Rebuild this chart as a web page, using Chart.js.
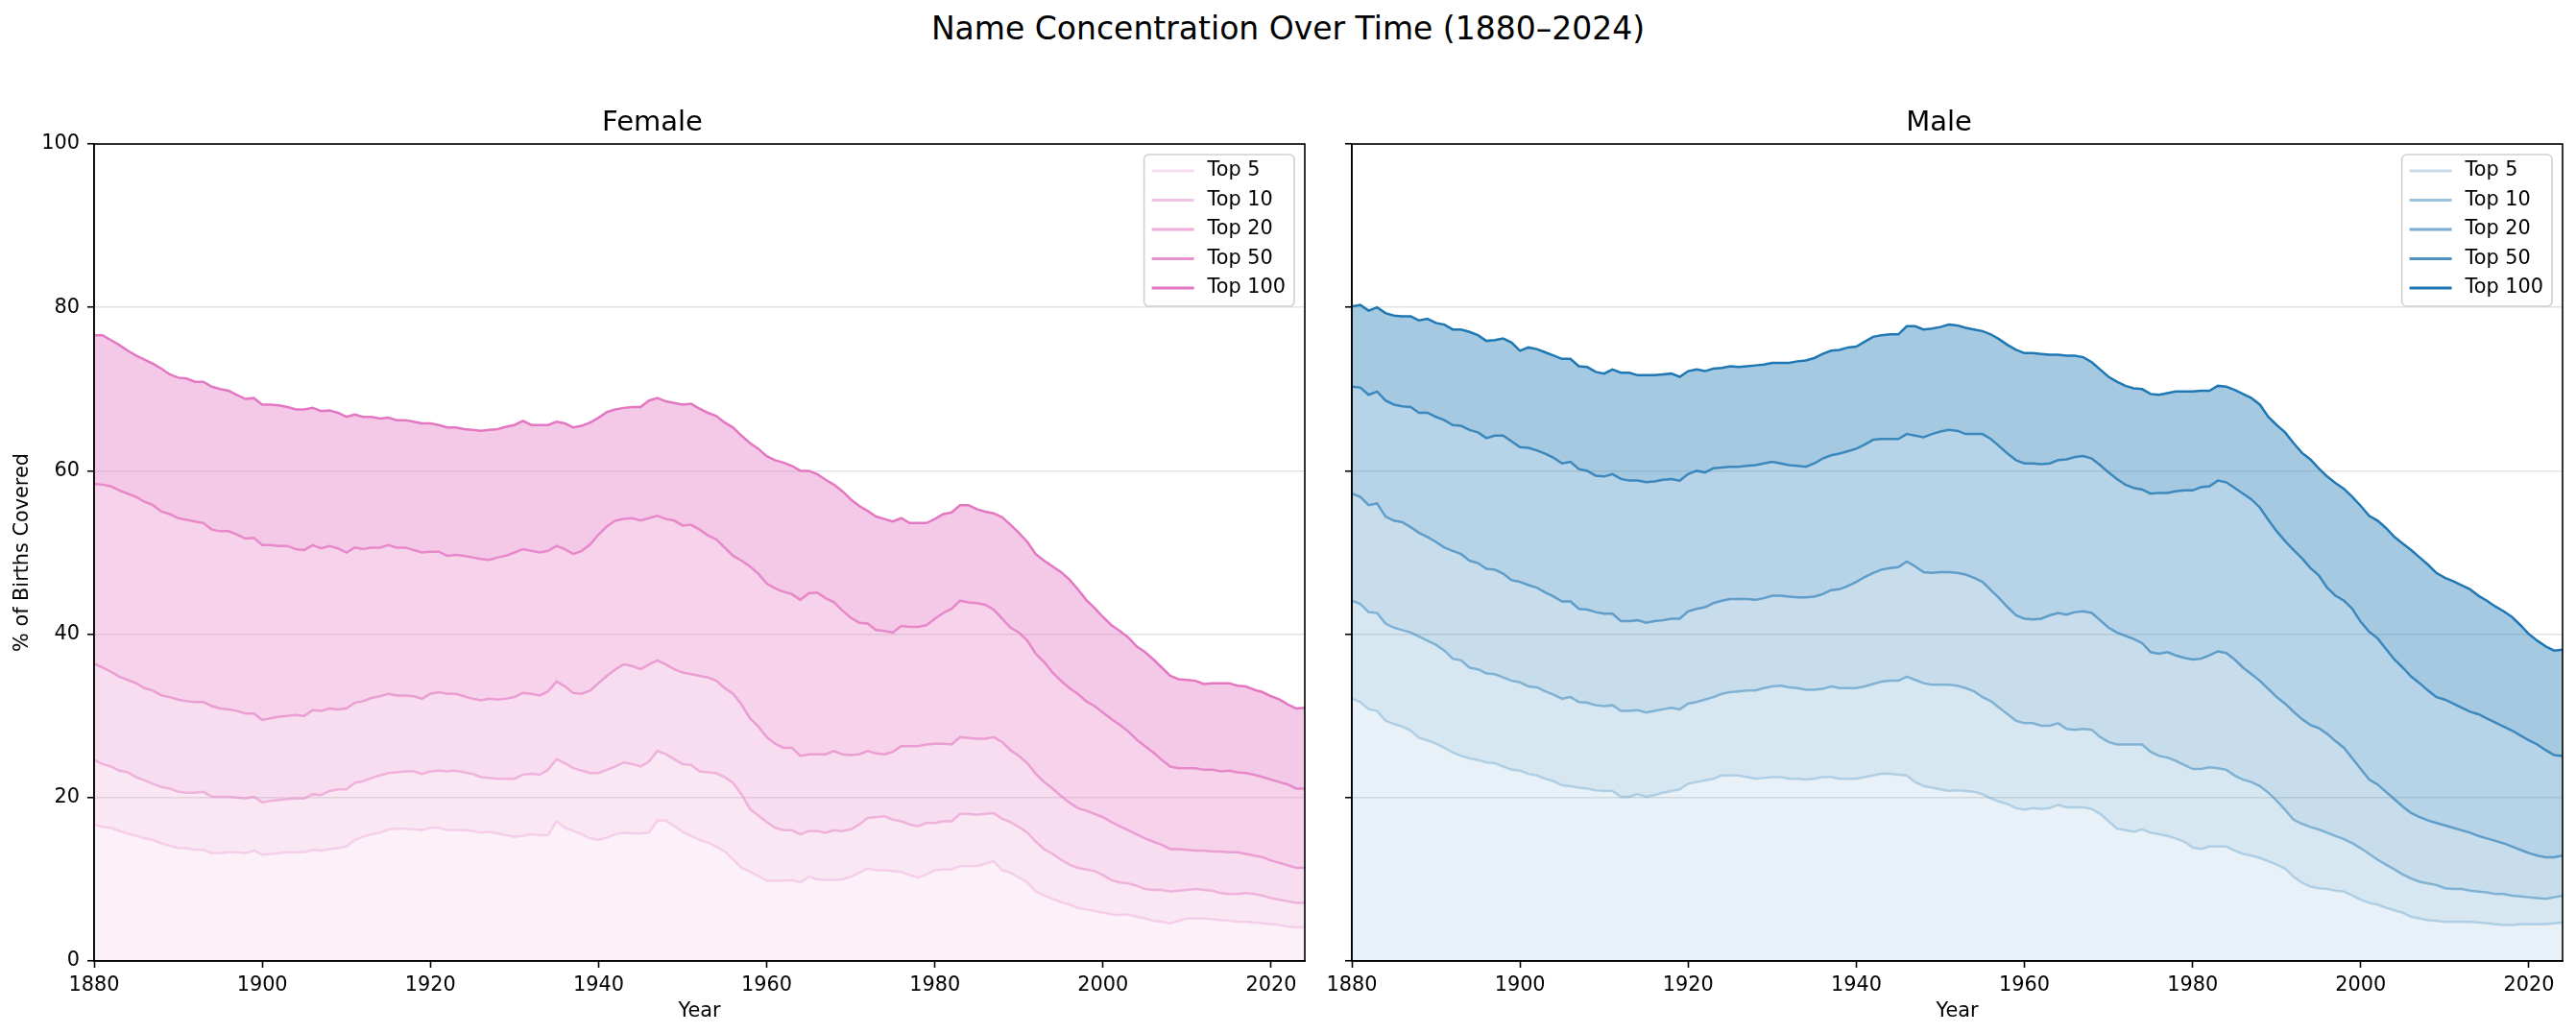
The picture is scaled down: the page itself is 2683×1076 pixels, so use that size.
<!DOCTYPE html>
<html>
<head>
<meta charset="utf-8">
<title>Name Concentration Over Time</title>
<script src="https://cdn.jsdelivr.net/npm/chart.js@4.4.1/dist/chart.umd.min.js"></script>
<style>
  html, body { margin: 0; padding: 0; background: #fff; }
  body { width: 2683px; height: 1076px; position: relative; overflow: hidden; font-family: "DejaVu Sans", sans-serif; }
  #suptitle { position: absolute; left: 0; top: 10px; width: 2683px; text-align: center; font-size: 33px; line-height: 40px; color: #000; }
  canvas { position: absolute; top: 3px; }
  #female { left: 0; }
  #male { left: 1370px; }
</style>
</head>
<body>
<div id="suptitle">Name Concentration Over Time (1880–2024)</div>
<canvas id="female" width="1383" height="1076"></canvas>
<canvas id="male" width="1313" height="1076"></canvas>
<script>
// x axis: one point per year, 1880..2024
const FIRST_YEAR = 1880;
const LAST_YEAR = 2024;
const YEARS = [];
for (let y = FIRST_YEAR; y <= LAST_YEAR; y++) YEARS.push(y);

const SERIES_LABELS = ['Top 5', 'Top 10', 'Top 20', 'Top 50', 'Top 100'];
const X_TICKS = [1880, 1900, 1920, 1940, 1960, 1980, 2000, 2020];
const Y_TICKS = [0, 20, 40, 60, 80, 100];

// % of births covered (one value per year)
const FEMALE_TOP5 = [
  16.7, 16.4, 16.3, 15.9, 15.6, 15.3, 15.0, 14.8, 14.4, 14.1,
  13.8, 13.8, 13.6, 13.6, 13.2, 13.2, 13.3, 13.3, 13.2, 13.5,
  13.0, 13.1, 13.2, 13.3, 13.3, 13.3, 13.6, 13.5, 13.7, 13.8,
  14.0, 14.8, 15.2, 15.5, 15.7, 16.1, 16.2, 16.2, 16.1, 16.0,
  16.3, 16.3, 16.0, 16.0, 16.0, 15.9, 15.7, 15.8, 15.6, 15.4,
  15.2, 15.3, 15.5, 15.4, 15.4, 17.1, 16.3, 15.9, 15.5, 15.0,
  14.8, 15.1, 15.5, 15.7, 15.6, 15.6, 15.7, 17.2, 17.2, 16.5,
  15.8, 15.3, 14.8, 14.5, 14.0, 13.4, 12.4, 11.4, 10.9, 10.4,
  9.8, 9.8, 9.8, 9.9, 9.6, 10.3, 10.0, 9.9, 9.9, 10.0,
  10.3, 10.8, 11.3, 11.1, 11.1, 11.0, 10.9, 10.5, 10.2, 10.6,
  11.1, 11.2, 11.2, 11.6, 11.6, 11.6, 11.9, 12.2, 11.1, 10.8,
  10.2, 9.6, 8.5, 8.0, 7.6, 7.2, 6.9, 6.5, 6.3, 6.1,
  5.9, 5.7, 5.6, 5.7, 5.4, 5.2, 4.9, 4.8, 4.6, 4.9,
  5.2, 5.2, 5.2, 5.1, 5.0, 4.9, 4.8, 4.8, 4.7, 4.6,
  4.5, 4.4, 4.2, 4.1, 4.1
];
const FEMALE_TOP10 = [
  24.6, 24.1, 23.8, 23.3, 23.1, 22.5, 22.1, 21.7, 21.3, 21.1,
  20.7, 20.6, 20.6, 20.7, 20.1, 20.1, 20.1, 20.0, 19.9, 20.1,
  19.4, 19.6, 19.7, 19.8, 19.9, 19.9, 20.4, 20.3, 20.8, 21.0,
  21.0, 21.8, 22.0, 22.4, 22.7, 23.0, 23.1, 23.2, 23.2, 22.9,
  23.2, 23.3, 23.2, 23.3, 23.1, 22.9, 22.5, 22.4, 22.3, 22.3,
  22.3, 22.8, 22.9, 22.8, 23.4, 24.7, 24.2, 23.6, 23.3, 23.0,
  23.0, 23.4, 23.8, 24.3, 24.1, 23.8, 24.4, 25.7, 25.3, 24.7,
  24.1, 24.0, 23.2, 23.1, 23.0, 22.5, 21.8, 20.4, 18.6, 17.8,
  17.0, 16.3, 16.0, 16.0, 15.5, 15.9, 15.9, 15.7, 16.0, 15.9,
  16.1, 16.7, 17.5, 17.6, 17.7, 17.3, 17.1, 16.7, 16.5, 16.9,
  16.9, 17.1, 17.1, 18.0, 18.0, 17.9, 18.0, 18.1, 17.4, 17.0,
  16.4, 15.7, 14.6, 13.7, 13.1, 12.4, 11.8, 11.4, 11.2, 11.0,
  10.5, 9.9, 9.6, 9.5, 9.2, 8.8, 8.7, 8.7, 8.5, 8.6,
  8.7, 8.8, 8.7, 8.6, 8.3, 8.2, 8.2, 8.3, 8.2, 8.0,
  7.7, 7.5, 7.3, 7.1, 7.1
];
const FEMALE_TOP20 = [
  36.4, 35.9, 35.4, 34.8, 34.4, 34.0, 33.4, 33.1, 32.5, 32.3,
  32.0, 31.8, 31.7, 31.7, 31.2, 30.9, 30.8, 30.6, 30.3, 30.3,
  29.5, 29.7, 29.9, 30.0, 30.1, 30.0, 30.7, 30.6, 30.9, 30.8,
  30.9, 31.6, 31.8, 32.2, 32.4, 32.7, 32.5, 32.5, 32.4, 32.1,
  32.7, 32.9, 32.7, 32.7, 32.4, 32.1, 31.9, 32.1, 32.0, 32.1,
  32.3, 32.8, 32.7, 32.5, 33.0, 34.2, 33.6, 32.8, 32.7, 33.1,
  34.0, 34.9, 35.7, 36.3, 36.1, 35.7, 36.3, 36.8, 36.3, 35.7,
  35.3, 35.1, 34.9, 34.7, 34.3, 33.4, 32.7, 31.4, 29.7, 28.7,
  27.4, 26.6, 26.1, 26.1, 25.1, 25.3, 25.3, 25.3, 25.7, 25.3,
  25.2, 25.3, 25.7, 25.4, 25.3, 25.6, 26.3, 26.3, 26.3, 26.5,
  26.6, 26.6, 26.5, 27.4, 27.3, 27.2, 27.2, 27.4, 26.8, 25.8,
  25.1, 24.2, 22.9, 21.9, 21.1, 20.2, 19.4, 18.7, 18.4, 18.0,
  17.6, 17.0, 16.5, 16.0, 15.5, 15.0, 14.6, 14.2, 13.7, 13.7,
  13.6, 13.5, 13.5, 13.4, 13.4, 13.3, 13.3, 13.1, 12.9, 12.7,
  12.3, 12.0, 11.7, 11.4, 11.4
];
const FEMALE_TOP50 = [
  58.4, 58.3, 58.1, 57.6, 57.2, 56.8, 56.2, 55.8, 55.0, 54.7,
  54.2, 54.0, 53.8, 53.6, 52.8, 52.6, 52.6, 52.2, 51.7, 51.8,
  50.9, 50.9, 50.8, 50.8, 50.4, 50.3, 50.9, 50.5, 50.8, 50.5,
  50.0, 50.6, 50.4, 50.6, 50.6, 50.9, 50.6, 50.6, 50.3, 50.0,
  50.1, 50.1, 49.6, 49.7, 49.6, 49.4, 49.2, 49.1, 49.4, 49.6,
  50.0, 50.4, 50.2, 50.0, 50.2, 50.8, 50.4, 49.8, 50.2, 51.0,
  52.2, 53.2, 53.9, 54.1, 54.2, 53.9, 54.2, 54.5, 54.1, 53.9,
  53.3, 53.4, 52.8, 52.1, 51.6, 50.6, 49.6, 49.0, 48.3, 47.4,
  46.2, 45.6, 45.2, 44.9, 44.2, 45.0, 45.1, 44.4, 43.9, 42.9,
  42.0, 41.4, 41.3, 40.5, 40.4, 40.2, 41.0, 40.9, 40.9, 41.1,
  41.9, 42.6, 43.1, 44.1, 43.9, 43.8, 43.6, 43.0, 41.9, 40.8,
  40.2, 39.2, 37.6, 36.6, 35.3, 34.3, 33.4, 32.7, 31.8, 31.2,
  30.4, 29.6, 28.9, 28.1, 27.1, 26.3, 25.5, 24.6, 23.8, 23.6,
  23.6, 23.6, 23.4, 23.4, 23.2, 23.3, 23.1, 23.0, 22.8, 22.5,
  22.2, 21.9, 21.6, 21.1, 21.1
];
const FEMALE_TOP100 = [
  76.6, 76.6, 76.0, 75.4, 74.7, 74.1, 73.6, 73.1, 72.5, 71.8,
  71.4, 71.3, 70.9, 70.9, 70.3, 70.0, 69.8, 69.3, 68.8, 68.9,
  68.1, 68.1, 68.0, 67.8, 67.5, 67.5, 67.7, 67.3, 67.4, 67.1,
  66.6, 66.9, 66.6, 66.6, 66.4, 66.5, 66.2, 66.2, 66.0, 65.8,
  65.8, 65.6, 65.3, 65.3, 65.1, 65.0, 64.9, 65.0, 65.1, 65.4,
  65.6, 66.1, 65.6, 65.6, 65.6, 66.0, 65.8, 65.3, 65.5, 65.9,
  66.5, 67.2, 67.5, 67.7, 67.8, 67.8, 68.6, 68.9, 68.5, 68.3,
  68.1, 68.2, 67.6, 67.1, 66.7, 65.9, 65.3, 64.3, 63.4, 62.7,
  61.8, 61.3, 61.0, 60.6, 60.0, 60.0, 59.6, 58.9, 58.3, 57.5,
  56.5, 55.7, 55.1, 54.4, 54.1, 53.8, 54.2, 53.6, 53.6, 53.6,
  54.1, 54.7, 54.9, 55.8, 55.8, 55.3, 55.0, 54.8, 54.3, 53.4,
  52.4, 51.3, 49.8, 49.0, 48.3, 47.6, 46.7, 45.5, 44.2, 43.2,
  42.1, 41.1, 40.4, 39.6, 38.5, 37.8, 36.9, 35.9, 34.9, 34.5,
  34.4, 34.3, 33.9, 34.0, 34.0, 34.0, 33.7, 33.6, 33.2, 32.9,
  32.4, 32.0, 31.4, 30.9, 31.0
];

const MALE_TOP5 = [
  32.1, 31.7, 30.8, 30.6, 29.4, 29.0, 28.7, 28.2, 27.3, 27.0,
  26.6, 26.1, 25.5, 25.1, 24.8, 24.6, 24.3, 24.2, 23.8, 23.4,
  23.3, 22.9, 22.7, 22.3, 22.0, 21.5, 21.4, 21.2, 21.1, 20.9,
  20.8, 20.8, 20.1, 20.1, 20.4, 20.1, 20.3, 20.6, 20.8, 21.0,
  21.7, 21.9, 22.1, 22.3, 22.7, 22.7, 22.7, 22.5, 22.3, 22.4,
  22.5, 22.5, 22.3, 22.3, 22.2, 22.3, 22.5, 22.5, 22.3, 22.3,
  22.3, 22.5, 22.7, 22.9, 22.9, 22.8, 22.7, 21.9, 21.4, 21.2,
  21.0, 20.8, 20.9, 20.8, 20.7, 20.4, 19.9, 19.5, 19.2, 18.7,
  18.5, 18.7, 18.6, 18.7, 19.1, 18.8, 18.8, 18.8, 18.6, 18.0,
  17.1, 16.2, 16.0, 15.8, 16.1, 15.7, 15.5, 15.3, 15.0, 14.6,
  13.9, 13.7, 14.0, 14.0, 14.0, 13.5, 13.1, 12.9, 12.6, 12.2,
  11.8, 11.3, 10.3, 9.6, 9.1, 8.9, 8.8, 8.6, 8.5, 8.0,
  7.5, 7.1, 6.9, 6.5, 6.2, 5.9, 5.4, 5.2, 5.0, 4.9,
  4.8, 4.8, 4.8, 4.8, 4.7, 4.6, 4.5, 4.4, 4.4, 4.5,
  4.5, 4.5, 4.5, 4.6, 4.7
];
const MALE_TOP10 = [
  44.1, 43.7, 42.7, 42.6, 41.3, 40.8, 40.5, 40.2, 39.7, 39.2,
  38.7, 38.0, 37.0, 36.8, 35.9, 35.7, 35.2, 35.1, 34.7, 34.3,
  34.1, 33.6, 33.5, 33.0, 32.6, 32.1, 32.3, 31.7, 31.6, 31.3,
  31.2, 31.3, 30.6, 30.6, 30.7, 30.4, 30.6, 30.8, 31.0, 30.8,
  31.5, 31.7, 32.0, 32.3, 32.7, 32.9, 33.0, 33.1, 33.1, 33.4,
  33.6, 33.7, 33.5, 33.4, 33.2, 33.2, 33.3, 33.6, 33.4, 33.4,
  33.4, 33.6, 33.9, 34.2, 34.3, 34.3, 34.8, 34.4, 34.0, 33.8,
  33.8, 33.8, 33.7, 33.4, 33.0, 32.3, 31.8, 31.0, 30.2, 29.4,
  29.1, 29.1, 28.8, 28.8, 29.1, 28.4, 28.3, 28.4, 28.3, 27.4,
  26.8, 26.5, 26.5, 26.5, 26.5, 25.6, 25.1, 24.9, 24.5, 24.0,
  23.5, 23.5, 23.7, 23.6, 23.4, 22.7, 22.2, 21.9, 21.4, 20.6,
  19.6, 18.5, 17.3, 16.8, 16.4, 16.1, 15.7, 15.3, 14.9, 14.4,
  13.8, 13.1, 12.4, 11.8, 11.2, 10.6, 10.1, 9.7, 9.5, 9.3,
  8.9, 8.8, 8.8, 8.6, 8.5, 8.4, 8.2, 8.2, 8.0, 7.9,
  7.8, 7.7, 7.6, 7.8, 8.0
];
const MALE_TOP20 = [
  57.2, 56.8, 55.8, 56.0, 54.4, 53.9, 53.7, 53.1, 52.4, 51.9,
  51.3, 50.6, 50.2, 49.8, 49.0, 48.7, 48.0, 47.9, 47.4, 46.6,
  46.4, 46.0, 45.7, 45.1, 44.6, 44.0, 44.0, 43.1, 43.0, 42.7,
  42.5, 42.5, 41.6, 41.6, 41.7, 41.4, 41.6, 41.7, 41.9, 41.9,
  42.8, 43.1, 43.3, 43.8, 44.1, 44.3, 44.3, 44.3, 44.2, 44.4,
  44.7, 44.7, 44.6, 44.5, 44.5, 44.6, 44.9, 45.4, 45.5, 45.9,
  46.4, 47.0, 47.5, 47.9, 48.1, 48.2, 48.9, 48.3, 47.6, 47.5,
  47.6, 47.6, 47.5, 47.3, 46.9, 46.4, 45.4, 44.4, 43.3, 42.3,
  41.9, 41.8, 41.9, 42.3, 42.6, 42.4, 42.7, 42.8, 42.6, 41.7,
  40.8, 40.2, 39.8, 39.4, 38.9, 37.8, 37.6, 37.8, 37.4, 37.1,
  36.9, 37.0, 37.4, 37.9, 37.7, 36.9, 35.9, 35.1, 34.3, 33.3,
  32.3, 31.5, 30.5, 29.6, 28.9, 28.5, 27.8, 26.9, 26.1, 24.8,
  23.5, 22.2, 21.6, 20.7, 19.8, 18.9, 18.1, 17.6, 17.2, 16.9,
  16.6, 16.3, 16.0, 15.7, 15.3, 15.0, 14.7, 14.4, 14.0, 13.6,
  13.2, 12.9, 12.7, 12.7, 12.9
];
const MALE_TOP50 = [
  70.3, 70.2, 69.3, 69.7, 68.6, 68.1, 67.9, 67.8, 67.1, 67.1,
  66.6, 66.2, 65.6, 65.5, 65.0, 64.7, 64.0, 64.3, 64.3, 63.6,
  62.9, 62.8, 62.5, 62.1, 61.6, 60.9, 61.1, 60.2, 60.0, 59.4,
  59.3, 59.6, 59.0, 58.8, 58.8, 58.6, 58.7, 58.9, 59.0, 58.8,
  59.6, 60.0, 59.8, 60.3, 60.4, 60.5, 60.5, 60.6, 60.7, 60.9,
  61.1, 60.9, 60.7, 60.6, 60.5, 60.9, 61.5, 61.9, 62.1, 62.4,
  62.7, 63.2, 63.8, 63.9, 63.9, 63.9, 64.5, 64.3, 64.1, 64.5,
  64.8, 65.0, 64.9, 64.5, 64.5, 64.5, 63.9, 63.0, 62.1, 61.3,
  60.9, 60.9, 60.8, 60.9, 61.3, 61.4, 61.7, 61.8, 61.5, 60.7,
  59.8, 59.0, 58.3, 57.9, 57.7, 57.2, 57.3, 57.3, 57.5, 57.6,
  57.6, 58.0, 58.1, 58.8, 58.6, 57.9, 57.2, 56.5, 55.5, 54.0,
  52.6, 51.4, 50.3, 49.3, 48.1, 47.2, 45.7, 44.7, 44.1, 43.1,
  41.5, 40.3, 39.5, 38.2, 36.9, 35.9, 34.8, 34.0, 33.1, 32.3,
  32.0, 31.5, 31.0, 30.5, 30.2, 29.7, 29.2, 28.7, 28.2, 27.6,
  27.0, 26.5, 25.8, 25.2, 25.1
];
const MALE_TOP100 = [
  80.1, 80.3, 79.6, 80.0, 79.3, 79.0, 78.9, 78.9, 78.4, 78.6,
  78.1, 77.9, 77.3, 77.3, 77.0, 76.6, 75.9, 76.0, 76.2, 75.7,
  74.7, 75.1, 74.9, 74.5, 74.1, 73.7, 73.7, 72.8, 72.7, 72.1,
  71.9, 72.4, 72.0, 72.0, 71.7, 71.7, 71.7, 71.8, 71.9, 71.5,
  72.2, 72.4, 72.2, 72.5, 72.6, 72.8, 72.7, 72.8, 72.9, 73.0,
  73.2, 73.2, 73.2, 73.4, 73.5, 73.8, 74.3, 74.7, 74.8, 75.1,
  75.2, 75.8, 76.4, 76.6, 76.7, 76.7, 77.7, 77.7, 77.3, 77.4,
  77.6, 77.9, 77.8, 77.5, 77.3, 77.1, 76.7, 76.1, 75.4, 74.8,
  74.4, 74.4, 74.3, 74.2, 74.2, 74.1, 74.1, 73.9, 73.3, 72.4,
  71.5, 70.9, 70.4, 70.1, 70.0, 69.4, 69.3, 69.5, 69.7, 69.7,
  69.7, 69.8, 69.8, 70.4, 70.3, 69.9, 69.4, 68.9, 68.1, 66.6,
  65.6, 64.7, 63.4, 62.2, 61.4, 60.3, 59.3, 58.5, 57.8, 56.8,
  55.7, 54.5, 53.9, 53.0, 51.9, 51.1, 50.3, 49.4, 48.5, 47.5,
  46.9, 46.5, 46.0, 45.5, 44.7, 44.1, 43.4, 42.8, 42.1, 41.1,
  40.0, 39.2, 38.5, 38.0, 38.1
];

// styling
const PINK = [227, 119, 194];
const BLUE = [31, 119, 180];
const LINE_ALPHA = [0.25, 0.45, 0.6, 0.8, 1.0];
const FILL_ALPHA = [0.1, 0.175, 0.25, 0.325, 0.4];
const FONT = '"DejaVu Sans", sans-serif';

Chart.defaults.font.family = FONT;
Chart.defaults.color = '#000';

function rgba(c, a) {
  return 'rgba(' + c[0] + ',' + c[1] + ',' + c[2] + ',' + a + ')';
}

// matplotlib-like frame + legend inside upper right of the plot area
const frameAndLegend = {
  id: 'frameAndLegend',
  afterDraw(chart) {
    const { ctx, chartArea } = chart;
    ctx.save();
    ctx.strokeStyle = '#000';
    ctx.lineWidth = 1.6;
    ctx.strokeRect(chartArea.left, chartArea.top, chartArea.right - chartArea.left, chartArea.bottom - chartArea.top);

    const sets = chart.data.datasets;
    ctx.font = '20.8px ' + FONT;
    const textW = Math.max(...sets.map(d => ctx.measureText(d.label).width));
    const w = 66 + textW + 9;
    const h = 158;
    const x = chartArea.right - 11 - w;
    const y = chartArea.top + 11;
    ctx.beginPath();
    ctx.roundRect(x, y, w, h, 5);
    ctx.fillStyle = 'rgba(255,255,255,0.8)';
    ctx.fill();
    ctx.strokeStyle = '#d0d0d0';
    ctx.lineWidth = 1.6;
    ctx.stroke();
    sets.forEach((d, i) => {
      const cy = y + 17 + i * 30.5;
      ctx.strokeStyle = d.borderColor;
      ctx.lineWidth = 3;
      ctx.beginPath();
      ctx.moveTo(x + 8, cy);
      ctx.lineTo(x + 52, cy);
      ctx.stroke();
      ctx.fillStyle = '#000';
      ctx.textBaseline = 'middle';
      ctx.textAlign = 'left';
      ctx.fillText(d.label, x + 66, cy);
    });
    ctx.restore();
  }
};

function makePanel(canvasId, title, series, color, yAxisWidth, showYLabels, padRight) {
  const datasets = series.map((values, i) => ({
    label: SERIES_LABELS[i],
    data: values,
    borderColor: rgba(color, LINE_ALPHA[i]),
    backgroundColor: rgba(color, FILL_ALPHA[i]),
    borderWidth: 2.5,
    pointRadius: 0,
    tension: 0,
    fill: i === 0 ? 'origin' : '-1'
  }));

  return new Chart(document.getElementById(canvasId), {
    type: 'line',
    data: { labels: YEARS, datasets: datasets },
    options: {
      responsive: false,
      animation: false,
      devicePixelRatio: 1,
      events: [],
      layout: { padding: { top: 107.6, right: padRight, bottom: 0, left: 0 } },
      plugins: {
        legend: { display: false },
        tooltip: { enabled: false },
        title: {
          display: true,
          text: title,
          color: '#000',
          font: { size: 29, weight: 'normal' },
          padding: { top: 0, bottom: 4.6 }
        }
      },
      scales: {
        x: {
          type: 'linear',
          min: FIRST_YEAR,
          max: LAST_YEAR,
          afterFit: (scale) => { scale.height = 78; },
          afterBuildTicks: (scale) => { scale.ticks = X_TICKS.map(v => ({ value: v })); },
          ticks: {
            font: { size: 20.8 },
            color: '#000',
            padding: 6,
            maxRotation: 0,
            callback: (v) => String(v)
          },
          grid: { drawOnChartArea: false, drawTicks: true, tickLength: 7, tickColor: '#000', tickWidth: 1.6 },
          border: { display: true, color: '#000', width: 1.6 },
          title: { display: true, text: 'Year', font: { size: 20.8 }, color: '#000', padding: { top: 0, bottom: 12.5 } }
        },
        y: {
          min: 0,
          max: 100,
          z: 1,
          afterFit: (scale) => { scale.width = yAxisWidth; },
          afterBuildTicks: (scale) => { scale.ticks = Y_TICKS.map(v => ({ value: v })); },
          ticks: { display: showYLabels, font: { size: 20.8 }, color: '#000', padding: 8 },
          grid: { color: 'rgba(176,176,176,0.35)', lineWidth: 1.5, drawTicks: true, tickLength: 7, tickColor: '#000', tickWidth: 1.6 },
          border: { display: true, color: '#000', width: 1.6 },
          title: { display: showYLabels, text: '% of Births Covered', font: { size: 20.8 }, color: '#000', padding: { top: 11.5, bottom: 0 } }
        }
      }
    },
    plugins: [frameAndLegend]
  });
}

makePanel('female', 'Female',
  [FEMALE_TOP5, FEMALE_TOP10, FEMALE_TOP20, FEMALE_TOP50, FEMALE_TOP100],
  PINK, 98, true, 24);

makePanel('male', 'Male',
  [MALE_TOP5, MALE_TOP10, MALE_TOP20, MALE_TOP50, MALE_TOP100],
  BLUE, 38, false, 14);
</script>
</body>
</html>
